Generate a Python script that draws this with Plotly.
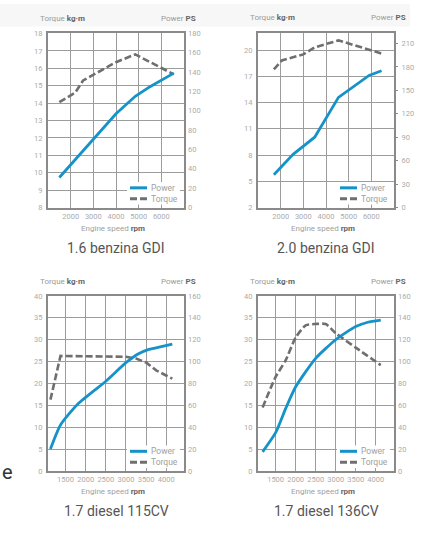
import plotly.graph_objects as go

W, H = 426, 533

# ---------------- data ----------------
titles = ["1.6 benzina GDI", "2.0 benzina GDI", "1.7 diesel 115CV", "1.7 diesel 136CV"]

rpm_16_torque = [1500, 2200, 2550, 4000, 4850, 6550]
torque_16 = [14.05, 14.6, 15.3, 16.35, 16.8, 15.65]
rpm_16_power = [1500, 2500, 3300, 4000, 4850, 5500, 6550]
power_16 = [31, 57, 78, 97, 115, 125, 139]

rpm_20_torque = [1700, 2050, 3000, 3500, 4550, 6450]
torque_20 = [17.8, 18.8, 19.5, 20.3, 21.1, 19.6]
rpm_20_power = [1700, 2550, 3500, 4550, 5900, 6450]
power_20 = [42, 68, 90, 141, 169, 175]

rpm_115_torque = [1125, 1375, 3000, 3250, 3500, 3750, 4150]
torque_115 = [16.3, 26.3, 26.1, 25.7, 24.8, 23.0, 21.1]
rpm_115_power = [1125, 1375, 1800, 2500, 3000, 3300, 3550, 3850, 4150]
power_115 = [20, 42, 61, 82, 99, 107, 111, 113.5, 116]

rpm_136_torque = [1175, 1500, 1750, 2000, 2250, 2500, 2750, 3000, 3500, 4125]
torque_136 = [14.5, 21.5, 25.3, 30.5, 33.3, 33.6, 33.6, 31.5, 28.2, 24.2]
rpm_136_power = [1175, 1500, 1750, 2000, 2500, 3000, 3500, 3800, 4125]
power_136 = [17.5, 35, 57, 77, 103, 120, 132, 136, 138]

# axis ticks
x_ticks_benz = [2000, 3000, 4000, 5000, 6000]
x_ticks_dies = [1500, 2000, 2500, 3000, 3500, 4000]
t_ticks_16 = list(range(8, 19))
p_ticks_16 = list(range(0, 181, 20))
t_ticks_20 = [2, 5, 8, 11, 14, 17, 20]
p_ticks_20 = [0, 30, 60, 90, 120, 150, 180, 210]
t_ticks_d = list(range(0, 41, 5))
p_ticks_d = list(range(0, 161, 20))

BLUE = "#1593c8"
GREY = "#6f6f6f"
GRID = "#9c9c9c"
FRAME = "#8a8a8a"
TICKC = "#ababab"
SMALL = "Liberation Sans Narrow, Roboto, Arial"
BIG = "Roboto, Noto Sans, Arial"

panels = [
    dict(rt=rpm_16_torque, t=torque_16, rp=rpm_16_power, p=power_16,
         xr=[1000, 7000], xt=x_ticks_benz, dt=1000,
         tr=[8, 18], tt=t_ticks_16, pr=[0, 180], pt=p_ticks_16,
         px=(48, 184), py=(30, 207), rticks=False, spline=False),
    dict(rt=rpm_20_torque, t=torque_20, rp=rpm_20_power, p=power_20,
         xr=[1000, 7000], xt=x_ticks_benz, dt=1000,
         tr=[2, 22], tt=t_ticks_20, pr=[0, 224], pt=p_ticks_20,
         px=(258, 394), py=(29, 207), rticks=True, spline=False),
    dict(rt=rpm_115_torque, t=torque_115, rp=rpm_115_power, p=power_115,
         xr=[1065, 4440], xt=x_ticks_dies, dt=500,
         tr=[0, 40], tt=t_ticks_d, pr=[0, 160], pt=p_ticks_d,
         px=(48, 184), py=(297, 475), rticks=False, spline=True),
    dict(rt=rpm_136_torque, t=torque_136, rp=rpm_136_power, p=power_136,
         xr=[1060, 4455], xt=x_ticks_dies, dt=500,
         tr=[0, 40], tt=t_ticks_d, pr=[0, 160], pt=p_ticks_d,
         px=(258, 394), py=(297, 475), rticks=False, spline=True),
]

def fx(px):
    return px / W

def fy(py):
    return 1 - py / H

fig = go.Figure()
layout = dict(width=W, height=H, margin=dict(l=0, r=0, t=0, b=0),
              paper_bgcolor="white", plot_bgcolor="white", showlegend=False)
annotations = []
shapes = []

# faint grey band at the top
shapes.append(dict(type="rect", xref="paper", yref="paper", x0=0, x1=fx(410),
                   y0=fy(23), y1=1, fillcolor="#f7f7f7", line=dict(width=0), layer="below"))

for i, pn in enumerate(panels):
    n = i + 1
    xa = "x" if n == 1 else f"x{n}"
    ya_l = f"y{2*n-1}" if (2 * n - 1) > 1 else "y"
    ya_r = f"y{2*n}"
    xkey = "xaxis" if n == 1 else f"xaxis{n}"
    ylkey = "yaxis" if (2 * n - 1) == 1 else f"yaxis{2*n-1}"
    yrkey = f"yaxis{2*n}"

    x0p, x1p = pn["px"]
    y0p, y1p = pn["py"]
    xd = [fx(x0p), fx(x1p)]
    yd = [fy(y1p), fy(y0p)]

    layout[xkey] = dict(domain=xd, anchor=ya_l, range=pn["xr"], tickvals=pn["xt"],
                        showgrid=True, gridcolor=GRID, gridwidth=1,
                        minor=dict(dtick=pn["dt"], tick0=0, showgrid=True, gridcolor=GRID, gridwidth=1),
                        showline=True, linecolor=FRAME, linewidth=2, mirror=True,
                        zeroline=False, ticks="", ticklabelstandoff=0,
                        tickfont=dict(family=SMALL, size=7.5, color=TICKC))
    layout[ylkey] = dict(domain=yd, anchor=xa, range=pn["tr"], tickvals=pn["tt"],
                         showgrid=True, gridcolor=GRID, gridwidth=1,
                         showline=True, linecolor=FRAME, linewidth=2, mirror=True,
                         zeroline=False, ticks="", ticklabelstandoff=2,
                         tickfont=dict(family=SMALL, size=7.5, color=TICKC))
    layout[yrkey] = dict(overlaying=ya_l, anchor=xa, side="right", range=pn["pr"],
                         tickvals=pn["pt"], showgrid=False, zeroline=False,
                         showline=False,
                         ticks="outside" if pn["rticks"] else "", ticklen=3,
                         tickcolor=FRAME, tickwidth=1,
                         ticklabelstandoff=2 if pn["rticks"] else 3,
                         tickfont=dict(family=SMALL, size=7.5, color=TICKC))

    shape_t = "spline" if pn["spline"] and n == 4 else "linear"
    fig.add_trace(go.Scatter(x=pn["rt"], y=pn["t"], xaxis=xa, yaxis=ya_l, mode="lines",
                             name="Torque",
                             line=dict(color=GREY, width=2.6, dash="7px,3px", shape=shape_t,
                                       smoothing=0.6)))
    fig.add_trace(go.Scatter(x=pn["rp"], y=pn["p"], xaxis=xa, yaxis=ya_r, mode="lines",
                             name="Power",
                             line=dict(color=BLUE, width=2.8,
                                       shape="spline" if pn["spline"] else "linear",
                                       smoothing=0.6)))

    # legend (box + samples + text)
    lx0 = x1p - 57
    ly = y1p - 26
    shapes.append(dict(type="rect", xref="paper", yref="paper",
                       x0=fx(lx0), x1=fx(x1p - 4), y0=fy(ly + 23), y1=fy(ly),
                       fillcolor="white", line=dict(width=0), layer="above"))
    shapes.append(dict(type="line", xref="paper", yref="paper",
                       x0=fx(lx0 + 3), x1=fx(lx0 + 20), y0=fy(ly + 6), y1=fy(ly + 6),
                       line=dict(color=BLUE, width=3), layer="above"))
    shapes.append(dict(type="line", xref="paper", yref="paper",
                       x0=fx(lx0 + 3), x1=fx(lx0 + 20), y0=fy(ly + 17), y1=fy(ly + 17),
                       line=dict(color=GREY, width=3, dash="7px,3px"), layer="above"))
    for txt, yy in (("Power", ly + 6), ("Torque", ly + 17)):
        annotations.append(dict(text=txt, xref="paper", yref="paper", x=fx(lx0 + 22),
                                y=fy(yy), xanchor="left", yanchor="middle", showarrow=False,
                                font=dict(family=SMALL, size=8.5, color="#a0a0a0")))

    # top axis titles
    top_y = y0p - 15
    annotations.append(dict(text="Torque <b><span style='color:#666'>kg·m</span></b>",
                            xref="paper", yref="paper", x=fx(x0p - 10), y=fy(top_y),
                            xanchor="left", yanchor="middle", showarrow=False,
                            font=dict(family=SMALL, size=8, color="#9a9a9a")))
    annotations.append(dict(text="Power <b><span style='color:#666'>PS</span></b>",
                            xref="paper", yref="paper", x=fx(x1p + 14), y=fy(top_y),
                            xanchor="right", yanchor="middle", showarrow=False,
                            font=dict(family=SMALL, size=8, color="#9a9a9a")))
    cx = (x0p + x1p) / 2
    annotations.append(dict(text="Engine speed <b><span style='color:#666'>rpm</span></b>",
                            xref="paper", yref="paper", x=fx(cx - 3), y=fy(y1p + 21),
                            xanchor="center", yanchor="middle", showarrow=False,
                            font=dict(family=SMALL, size=8, color="#a0a0a0")))
    annotations.append(dict(text=titles[i], xref="paper", yref="paper", x=fx(cx),
                            y=fy(y1p + 41), xanchor="center", yanchor="middle", showarrow=False,
                            font=dict(family=BIG, size=14, color="#555555")))

# letter at left edge
annotations.append(dict(text="e", xref="paper", yref="paper", x=0, y=fy(476),
                        xanchor="left", yanchor="middle", showarrow=False,
                        font=dict(family=BIG, size=20, color="#333333")))

layout["annotations"] = annotations
layout["shapes"] = shapes
fig.update_layout(**layout)
fig.write_html("out.html", config={"displayModeBar": False},
               post_script="document.body.style.margin='0';document.body.style.padding='0';")
